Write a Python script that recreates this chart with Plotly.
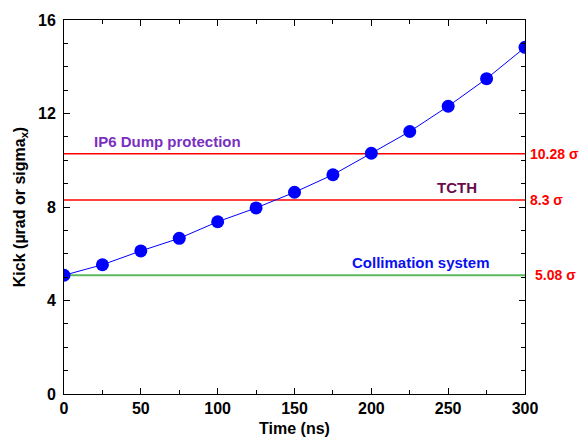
import plotly.graph_objects as go

time_ns = [0, 25, 50, 75, 100, 125, 150, 175, 200, 225, 250, 275, 300]
kick = [5.08, 5.53, 6.12, 6.66, 7.37, 7.96, 8.63, 9.38, 10.30, 11.23, 12.31, 13.49, 14.83]

levels = [10.28, 8.3, 5.08]
level_colors = ["#ff0000", "#ff0000", "#5cb85c"]
level_widths = [1.5, 1.5, 2]
level_labels = ["10.28 σ", "8.3 σ", "5.08 σ"]
region_names = ["IP6 Dump protection", "TCTH", "Collimation system"]
region_colors = ["#7b2fc0", "#6a0a4a", "#0a10f0"]
region_x = [18, 256, 232]

F = "Liberation Sans, Arial, sans-serif"

fig = go.Figure()
for lv, c, w in zip(levels, level_colors, level_widths):
    fig.add_trace(go.Scatter(x=[0, 300], y=[lv, lv], mode="lines",
                             line=dict(color=c, width=w), hoverinfo="skip"))

fig.add_trace(go.Scatter(x=time_ns, y=kick, mode="lines+markers",
                         line=dict(color="#0000ff", width=1),
                         marker=dict(color="#0000ff", size=13)))

for lv, lab, xs in zip(levels, level_labels, [3, 3, 8]):
    fig.add_annotation(x=1, xref="paper", xshift=xs,
                       y=lv, yref="y", text="<b>" + lab + "</b>",
                       showarrow=False, xanchor="left", yanchor="middle",
                       font=dict(family=F, size=14, color="#ff0000"))

for name, c, xx, lv, anchor in zip(region_names, region_colors, region_x, levels,
                                   ["left", "center", "center"]):
    fig.add_annotation(x=xx, y=lv, text="<b>" + name + "</b>", showarrow=False,
                       xanchor=anchor, yanchor="bottom", yshift=2,
                       font=dict(family=F, size=15, color=c))

axis_common = dict(showgrid=False, zeroline=False, showline=True, linecolor="#000000",
                   linewidth=1, ticks="inside", ticklen=6, tickcolor="#000000",
                   mirror="ticks",
                   tickfont=dict(family=F, size=16, color="#000000"))

fig.update_xaxes(range=[0, 300], tick0=0, dtick=50,
                 minor=dict(dtick=25, ticks="inside", ticklen=4, tickcolor="#000000"),
                 title=dict(text="<b>Time (ns)</b>", font=dict(family=F, size=16, color="#000000"),
                            standoff=6),
                 tickprefix="<b>", ticksuffix="</b>", **axis_common)
fig.update_yaxes(range=[0, 16], tick0=0, dtick=4,
                 minor=dict(dtick=1, ticks="inside", ticklen=4, tickcolor="#000000"),
                 title=dict(text="<b>Kick (µrad or sigma<sub>x</sub>)</b>",
                            font=dict(family=F, size=16, color="#000000"), standoff=8),
                 ticklabelstandoff=4,
                 tickprefix="<b>", ticksuffix="</b>", **axis_common)

fig.update_layout(width=582, height=446, showlegend=False,
                  plot_bgcolor="#ffffff", paper_bgcolor="#ffffff",
                  margin=dict(l=64, r=57, t=16, b=48))

fig.write_html("out.html")
